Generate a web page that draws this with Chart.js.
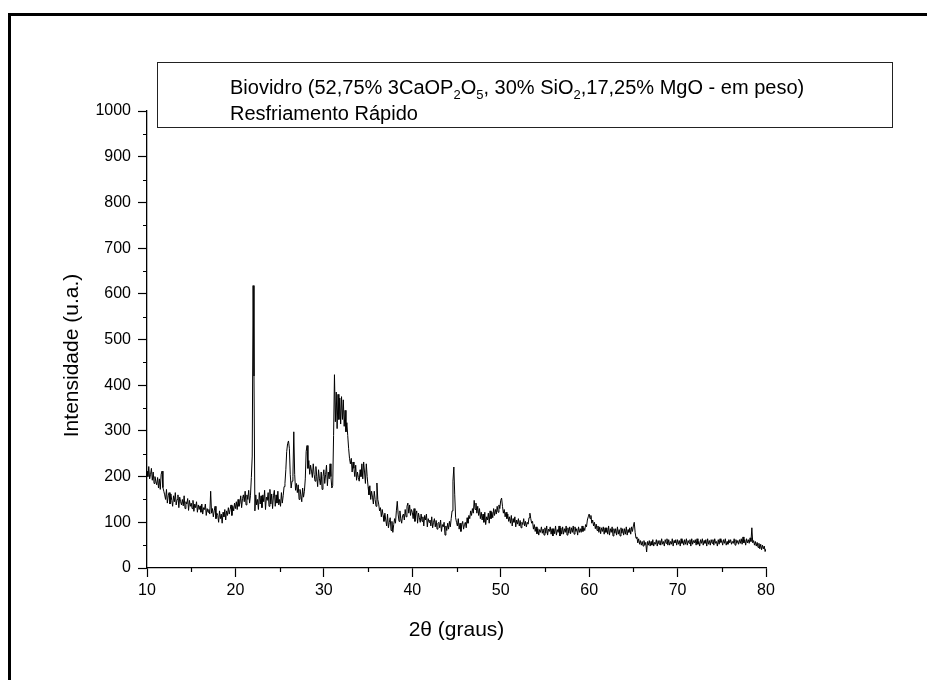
<!DOCTYPE html>
<html><head><meta charset="utf-8">
<script src="https://cdn.jsdelivr.net/npm/chart.js@4/dist/chart.umd.min.js"></script>
<style>
html,body{margin:0;padding:0;background:#fff;}
#wrap{position:relative;width:927px;height:680px;overflow:hidden;}
#frame{position:absolute;left:8px;top:13px;right:-10px;bottom:-10px;border-left:3px solid #000;border-top:3px solid #000;pointer-events:none;}
canvas{position:absolute;left:0;top:0;}
</style></head><body>
<div id="wrap"><canvas id="c" width="927" height="680"></canvas><div id="frame"></div></div>
<script>
// 2θ sampling grid (degrees)
const twoThetaStart = 10, twoThetaStep = 0.1;
// Intensity (u.a.), 0.1° steps, grouped by 10°
const i10to20 = [
 212,200,222,195,205,218,192,210,185,200,
 190,182,198,175,195,172,205,212,176,168,
 160,150,172,142,158,165,140,162,148,135,
 158,145,165,138,150,160,132,155,145,138,
 150,136,158,130,145,140,152,126,148,135,
 142,130,148,124,140,132,145,122,138,128,
 136,122,140,118,132,128,140,115,130,122,
 128,118,168,120,130,112,125,135,108,120,
 115,100,125,108,118,98,122,112,128,105,
 125,115,132,118,128,138,115,135,125,142];
const i20to30 = [
 130,145,128,150,135,142,158,132,152,160,
 145,168,138,160,150,170,142,158,198,245,
 618,420,125,160,138,150,128,165,140,158,
 132,160,145,170,128,155,148,165,135,172,
 140,162,130,158,170,135,160,142,168,138,
 150,135,165,142,158,178,185,215,255,272,
 278,262,205,175,190,200,298,205,170,185,
 165,182,150,172,160,145,175,155,168,195,
 255,268,218,235,205,225,212,198,228,205,
 190,222,200,178,215,195,182,210,172,200];
const i30to40 = [
 215,185,205,225,180,210,195,228,200,175,
 180,290,423,320,385,305,380,325,372,315,
 375,325,368,310,345,298,318,290,262,240,
 228,240,210,232,218,200,225,192,210,198,
 190,215,200,228,195,232,210,185,228,200,
 178,160,180,150,168,155,140,168,150,135,
 186,150,140,125,132,112,128,115,102,120,
 105,92,118,88,100,110,82,102,78,95,
 108,98,125,146,118,102,125,108,98,115,
 118,105,128,112,135,142,120,138,115,128];
const i40to50 = [
 122,108,130,102,118,125,98,120,110,100,
 118,102,112,92,115,105,118,90,108,100,
 105,92,112,88,100,108,90,104,85,98,
 100,88,105,80,95,90,100,72,92,82,
 98,85,102,90,108,125,190,221,160,110,
 100,92,108,85,98,80,95,102,85,95,
 100,88,110,98,115,108,125,115,130,120,
 148,128,142,120,135,115,130,108,122,105,
 118,100,122,95,112,105,120,98,125,108,
 122,110,130,115,128,118,135,122,138,130];
const i50to60 = [
 148,153,135,120,128,112,122,108,118,102,
 112,98,115,92,108,100,112,90,105,96,
 108,92,104,88,100,95,108,92,102,90,
 100,96,110,120,108,98,102,85,95,80,
 90,75,86,72,84,78,90,76,85,72,
 88,76,92,72,85,80,90,74,86,70,
 86,75,92,72,84,78,92,70,88,74,
 90,74,86,78,92,72,88,76,90,75,
 88,78,92,74,90,80,86,72,90,78,
 86,78,92,80,88,82,95,90,105,112];
const i60to70 = [
 118,108,115,98,105,92,100,86,96,82,
 92,78,90,75,88,80,90,74,88,78,
 88,74,92,72,86,78,90,70,86,76,
 86,72,90,74,84,70,88,76,86,72,
 86,74,90,72,84,78,88,74,90,80,
 92,100,78,65,68,55,64,52,60,50,
 58,48,60,50,56,35,58,50,60,48,
 58,50,62,48,56,52,62,48,60,52,
 60,50,64,52,58,48,62,54,64,50,
 62,50,58,52,64,48,60,55,62,50];
const i70to80 = [
 62,52,60,48,64,54,60,50,62,52,
 64,50,60,54,62,48,64,52,60,55,
 62,50,64,52,58,48,62,54,64,50,
 60,54,62,48,64,52,60,50,62,54,
 62,50,64,54,58,48,62,52,64,56,
 60,50,62,54,64,50,58,52,62,55,
 62,52,58,54,64,50,62,54,60,52,
 62,54,64,52,68,55,62,50,64,55,
 62,54,66,58,88,55,60,50,58,48,
 56,45,54,42,52,40,50,42,48,36,
 42];

const xAxisTitle = '2θ (graus)';
const yAxisTitle = 'Intensidade (u.a.)';
const legendLine1 = [['Biovidro (52,75% 3CaOP',0],['2',1],['O',0],['5',1],[', 30% SiO',0],['2',1],[',17,25% MgO - em peso)',0]];
const legendLine2 = 'Resfriamento Rápido';

const intensity = [].concat(i10to20, i20to30, i30to40, i40to50, i50to60, i60to70, i70to80);
const points = intensity.map((v, i) => ({x: +(twoThetaStart + i * twoThetaStep).toFixed(2), y: v}));

const FONT = "'Liberation Sans', Arial, Helvetica, sans-serif";

const decor = {
  id: 'decor',
  afterDraw(chart) {
    const ctx = chart.ctx, ca = chart.chartArea;
    const xs = chart.scales.x, ys = chart.scales.y;
    ctx.save();
    ctx.strokeStyle = '#000'; ctx.lineWidth = 1.2;
    // minor ticks, halfway between major ticks
    ctx.beginPath();
    for (let k = 0; k < ys.ticks.length - 1; k++) {
      const v = (ys.ticks[k].value + ys.ticks[k + 1].value) / 2;
      const p = Math.round(ys.getPixelForValue(v)) + 0.5;
      ctx.moveTo(ca.left - 4, p); ctx.lineTo(ca.left, p);
    }
    for (let k = 0; k < xs.ticks.length - 1; k++) {
      const v = (xs.ticks[k].value + xs.ticks[k + 1].value) / 2;
      const p = Math.round(xs.getPixelForValue(v)) + 0.5;
      ctx.moveTo(p, ca.bottom); ctx.lineTo(p, ca.bottom + 4);
    }
    ctx.stroke();
    // y axis title
    ctx.fillStyle = '#000';
    ctx.font = '21px ' + FONT;
    ctx.textAlign = 'center'; ctx.textBaseline = 'middle';
    ctx.translate(72, (ca.top + ca.bottom) / 2 + 16);
    ctx.rotate(-Math.PI / 2);
    ctx.fillText(yAxisTitle, 0, 0);
    ctx.restore();
    // annotation box
    ctx.save();
    const bx = ca.left + 10, by = ca.top - 49, bw = ca.right + 126 - bx, bh = 65;
    ctx.strokeStyle = '#222'; ctx.lineWidth = 1;
    ctx.strokeRect(Math.round(bx) + 0.5, Math.round(by) + 0.5, Math.round(bw), bh);
    ctx.fillStyle = '#000'; ctx.textAlign = 'left'; ctx.textBaseline = 'alphabetic';
    let tx = bx + 73;
    const base1 = ca.top - 17, base2 = ca.top + 9;
    for (const [s, sub] of legendLine1) {
      ctx.font = (sub ? '13px ' : '20px ') + FONT;
      ctx.fillText(s, tx, sub ? base1 + 5 : base1);
      tx += ctx.measureText(s).width;
    }
    ctx.font = '20px ' + FONT;
    ctx.fillText(legendLine2, bx + 73, base2);
    ctx.restore();
  }
};

const axisCommon = {
  grid: {drawOnChartArea: false, drawTicks: true, tickLength: 9, tickColor: '#000', tickWidth: 1.2},
  border: {display: true, color: '#000', width: 1.3}
};

new Chart(document.getElementById('c').getContext('2d'), {
  type: 'line',
  data: {datasets: [{label: 'Biovidro - Resfriamento Rápido', data: points, borderColor: '#000', borderWidth: 1, pointRadius: 0, tension: 0, fill: false}]},
  options: {
    responsive: false, animation: false, devicePixelRatio: 1,
    layout: {padding: {left: 57, top: 111, right: 161, bottom: 35}},
    plugins: {legend: {display: false}, tooltip: {enabled: false}},
    scales: {
      x: Object.assign({
        type: 'linear', min: 10, max: 80,
        ticks: {stepSize: 10, color: '#000', font: {family: FONT, size: 16}, padding: 4, maxRotation: 0, callback: v => String(v)},
        title: {display: true, text: xAxisTitle, color: '#000', font: {family: FONT, size: 21}, padding: {top: 0, bottom: 2}},
        afterFit(s) { s.height = 77; }
      }, axisCommon),
      y: Object.assign({
        min: 0, max: 1000,
        ticks: {stepSize: 100, color: '#000', font: {family: FONT, size: 16}, padding: 7, callback: v => String(v)},
        title: {display: false},
        afterFit(s) { s.width = 90; }
      }, axisCommon)
    }
  },
  plugins: [decor]
});
</script>
</body></html>
